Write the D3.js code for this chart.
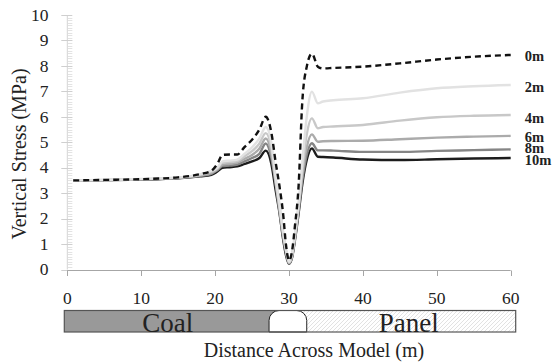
<!DOCTYPE html>
<html lang="en">
<head>
  <meta charset="UTF-8">
  <title>Vertical Stress Across Model</title>
  <script src="https://d3js.org/d3.v7.min.js"></script>
  <style>
    body { margin: 0; background: #fff; }
    svg text { fill: #222; }
  </style>
</head>
<body>

<script>
  // distance across model (m) and stress (MPa) at each depth
  var distance = [0.8, 5, 10, 15, 18, 19.5, 20.3, 21, 22, 23, 24, 25, 26, 26.85, 27.6, 28.2, 28.7, 29.2, 29.6, 30,
                  30.4, 30.8, 31.3, 31.8, 32.4, 33.1, 33.9, 34.6, 36, 40, 45, 50, 55, 60];
  var s0m  = [3.5, 3.52, 3.55, 3.62, 3.75, 3.88, 4.15, 4.5, 4.52, 4.52, 4.82, 5.1, 5.5, 6.0, 5.4, 4.2, 3.3, 2.2, 0.95, 0.35,
              0.7, 1.7, 3.3, 6.6, 7.97, 8.48, 7.97, 7.9, 7.92, 7.97, 8.1, 8.25, 8.36, 8.43];
  var s2m  = [3.5, 3.52, 3.56, 3.62, 3.75, 3.88, 4.0, 4.25, 4.28, 4.32, 4.55, 4.8, 5.15, 5.6, 5.0, 3.6, 2.6, 1.5, 0.8, 0.3,
              0.6, 1.4, 2.6, 4.2, 6.0, 6.99, 6.53, 6.6, 6.65, 6.73, 6.95, 7.12, 7.2, 7.25];
  var s4m  = [3.5, 3.52, 3.55, 3.61, 3.72, 3.84, 3.97, 4.2, 4.22, 4.26, 4.45, 4.65, 4.95, 5.36, 4.8, 3.5, 2.5, 1.45, 0.75, 0.28,
              0.55, 1.3, 2.5, 3.9, 5.3, 5.94, 5.55, 5.6, 5.62, 5.68, 5.85, 5.98, 6.04, 6.07];
  var s6m  = [3.5, 3.51, 3.54, 3.6, 3.7, 3.8, 3.93, 4.12, 4.15, 4.2, 4.35, 4.5, 4.75, 5.15, 4.6, 3.4, 2.4, 1.35, 0.7, 0.25,
              0.5, 1.25, 2.4, 3.7, 4.8, 5.31, 5.02, 5.04, 5.05, 5.06, 5.12, 5.18, 5.22, 5.25];
  var s8m  = [3.5, 3.51, 3.54, 3.59, 3.68, 3.76, 3.9, 4.06, 4.08, 4.12, 4.25, 4.38, 4.55, 4.95, 4.4, 3.35, 2.3, 1.3, 0.65, 0.23,
              0.48, 1.2, 2.3, 3.5, 4.5, 4.96, 4.68, 4.68, 4.67, 4.62, 4.62, 4.66, 4.69, 4.72];
  var s10m = [3.5, 3.51, 3.53, 3.58, 3.66, 3.72, 3.85, 4.0, 4.02, 4.05, 4.15, 4.25, 4.38, 4.67, 4.17, 3.1, 2.25, 1.2, 0.55, 0.22,
              0.45, 1.15, 2.2, 3.35, 4.3, 4.76, 4.43, 4.42, 4.4, 4.32, 4.30, 4.33, 4.36, 4.38];

  var seriesNames = ["10m", "8m", "6m", "4m", "2m", "0m"];
  var seriesValues = [s10m, s8m, s6m, s4m, s2m, s0m];
  var seriesColors = ["#1c1c1c", "#858585", "#ababab", "#c8c8c8", "#e2e2e2", "#111"];

  var xTicks = [0, 10, 20, 30, 40, 50, 60];
  var yTicks = [0, 1, 2, 3, 4, 5, 6, 7, 8, 9, 10];

  // model strip below the axis (m)
  var coalEnd = 27.3, panelStart = 32.4;

  var width = 559, height = 362;
  var serif = "'Liberation Serif', 'DejaVu Serif', 'Times New Roman', serif";

  var x = d3.scaleLinear().domain([0, 60]).range([67.3, 510.7]);
  var y = d3.scaleLinear().domain([0, 10]).range([269.5, 15]);

  var svg = d3.select("body").append("svg")
    .attr("width", width)
    .attr("height", height)
    .attr("font-family", serif)
    .style("font-family", serif);

  var defs = svg.append("defs");
  var hatch = defs.append("pattern")
    .attr("id", "hatch")
    .attr("patternUnits", "userSpaceOnUse")
    .attr("width", 4).attr("height", 4);
  hatch.append("rect").attr("width", 4).attr("height", 4).attr("fill", "#fff");
  hatch.append("path")
    .attr("d", "M-1,1 l2,-2 M0,4 l4,-4 M3,5 l2,-2")
    .attr("stroke", "#d6d6d6")
    .attr("stroke-width", 0.7);

  // y axis: light grey with minor ticks
  var yAxisG = svg.append("g");
  yAxisG.append("line")
    .attr("x1", x(0)).attr("x2", x(0))
    .attr("y1", y(10)).attr("y2", y(0))
    .attr("stroke", "#d4d4d4");
  yAxisG.selectAll(".minor")
    .data(d3.range(0, 100).map(function (i) { return i / 10; }))
    .enter().append("line")
    .attr("x1", x(0)).attr("x2", x(0) + 5)
    .attr("y1", function (d) { return Math.round(y(d)) + 0.5; })
    .attr("y2", function (d) { return Math.round(y(d)) + 0.5; })
    .attr("stroke", "#dcdcdc")
    .attr("stroke-width", 0.8);
  yAxisG.selectAll(".major")
    .data(yTicks)
    .enter().append("line")
    .attr("x1", x(0) - 6).attr("x2", x(0) + 5)
    .attr("y1", function (d) { return Math.round(y(d)) + 0.5; })
    .attr("y2", function (d) { return Math.round(y(d)) + 0.5; })
    .attr("stroke", "#cfcfcf");
  yAxisG.selectAll(".ylab")
    .data(yTicks)
    .enter().append("text")
    .attr("x", 48.5)
    .attr("y", function (d) { return y(d); })
    .attr("dy", "0.33em")
    .attr("text-anchor", "end")
    .style("font-size", "17.5px")
    .text(function (d) { return d; });

  // x axis
  var xAxisG = svg.append("g");
  xAxisG.append("line")
    .attr("x1", x(0)).attr("x2", x(60))
    .attr("y1", 270.5).attr("y2", 270.5)
    .attr("stroke", "#a6a6a6");
  xAxisG.selectAll(".xt")
    .data(xTicks)
    .enter().append("line")
    .attr("x1", function (d) { return Math.round(x(d)) + 0.5; })
    .attr("x2", function (d) { return Math.round(x(d)) + 0.5; })
    .attr("y1", 270.5).attr("y2", 276)
    .attr("stroke", "#a6a6a6");
  xAxisG.selectAll(".xlab")
    .data(xTicks)
    .enter().append("text")
    .attr("x", function (d) { return x(d); })
    .attr("y", 303.5)
    .attr("text-anchor", "middle")
    .style("font-size", "17.5px")
    .text(function (d) { return d; });

  // stress curves
  var line = d3.line()
    .x(function (d) { return x(d[0]); })
    .y(function (d) { return y(d[1]); })
    .curve(d3.curveMonotoneX);

  seriesValues.forEach(function (vals, i) {
    var pts = distance.map(function (d, j) { return [d, vals[j]]; });
    svg.append("path")
      .datum(pts)
      .attr("d", line)
      .attr("fill", "none")
      .attr("stroke", seriesColors[i])
      .attr("stroke-width", 2.4)
      .attr("stroke-dasharray", seriesNames[i] === "0m" ? "6,4" : null);
  });

  // end labels (8m / 10m crowd each other, as in the original)
  var labelShift = { "0m": 6.5, "2m": 7.5, "4m": 7.5, "6m": 6.5, "8m": 3.5, "10m": 6.5 };
  svg.selectAll(".endlab")
    .data(seriesNames)
    .enter().append("text")
    .attr("x", x(60) + 14)
    .attr("y", function (d, i) { return y(seriesValues[i][seriesValues[i].length - 1]) + labelShift[d]; })
    .style("font-size", "14.5px")
    .style("font-weight", "bold")
    .text(function (d) { return d; });

  // model strip: coal, opening, panel
  var barTop = 310.5, barBottom = 332, r = 10;
  var bx0 = x(0) - 3, bx1 = x(60) + 5;
  var mid = x((coalEnd + panelStart) / 2);
  svg.append("rect")
    .attr("x", bx0).attr("y", barTop)
    .attr("width", mid - bx0).attr("height", barBottom - barTop)
    .attr("fill", "#999");
  svg.append("rect")
    .attr("x", mid).attr("y", barTop)
    .attr("width", bx1 - mid).attr("height", barBottom - barTop)
    .attr("fill", "url(#hatch)");
  var ox0 = x(coalEnd), ox1 = x(panelStart);
  svg.append("path")
    .attr("d", "M" + ox0 + "," + barBottom + " L" + ox0 + "," + (barTop + r) +
      " A" + r + "," + r + " 0 0 1 " + (ox0 + r) + "," + barTop +
      " L" + (ox1 - r) + "," + barTop +
      " A" + r + "," + r + " 0 0 1 " + ox1 + "," + (barTop + r) +
      " L" + ox1 + "," + barBottom + " Z")
    .attr("fill", "#fff")
    .attr("stroke", "#222")
    .attr("stroke-width", 1);
  svg.append("rect")
    .attr("x", bx0).attr("y", barTop)
    .attr("width", bx1 - bx0).attr("height", barBottom - barTop)
    .attr("fill", "none")
    .attr("stroke", "#555")
    .attr("stroke-width", 1.2);

  svg.append("text")
    .attr("x", x(coalEnd / 2) - 0.5)
    .attr("y", barBottom - 0.5)
    .attr("text-anchor", "middle")
    .style("font-size", "27px")
    .text("Coal");
  svg.append("text")
    .attr("x", x((panelStart + 60) / 2))
    .attr("y", barBottom - 0.5)
    .attr("text-anchor", "middle")
    .style("font-size", "27px")
    .text("Panel");

  // axis titles
  svg.append("text")
    .attr("x", 314)
    .attr("y", 356.5)
    .attr("text-anchor", "middle")
    .style("font-size", "20px")
    .text("Distance Across Model (m)");
  svg.append("text")
    .attr("transform", "translate(25.5,154) rotate(-90)")
    .attr("text-anchor", "middle")
    .style("font-size", "20px")
    .text("Vertical Stress (MPa)");
</script>

</body>
</html>
